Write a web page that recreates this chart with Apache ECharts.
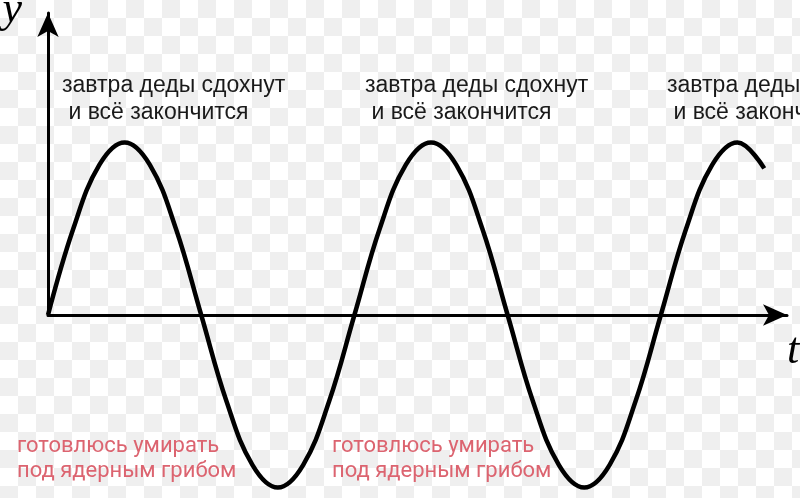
<!DOCTYPE html>
<html>
<head>
<meta charset="utf-8">
<script src="https://cdn.jsdelivr.net/npm/echarts@6/dist/echarts.min.js"></script>
<style>
  html, body { margin: 0; padding: 0; background: #fff; }
  #chart { width: 800px; height: 498px; }
</style>
</head>
<body>
<div id="chart"></div>
<script>
// t in quarter periods, y (amplitude = 1)
const tValues = [0, 0.33, 0.67, 1, 1.33, 1.67, 2, 2.33, 2.67, 3, 3.33, 3.67, 4,
  4.33, 4.67, 5, 5.33, 5.67, 6, 6.33, 6.67, 7, 7.33, 7.67, 8, 8.33, 8.67, 9, 9.35]
const yValues = [0, 0.5, 0.87, 1, 0.87, 0.5, 0, -0.5, -0.87, -1, -0.87, -0.5, 0,
  0.5, 0.87, 1, 0.87, 0.5, 0, -0.5, -0.87, -1, -0.87, -0.5, 0, 0.5, 0.87, 1, 0.85]

const topText = 'завтра деды сдохнут\n и всё закончится'
const bottomText = 'готовлюсь умирать\nпод ядерным грибом'
const topTextX = [62, 365, 667]
const bottomTextX = [17, 332]

// faint checkerboard like the source picture
function checker() {
  const c = document.createElement('canvas')
  c.width = 36
  c.height = 36
  const ctx = c.getContext('2d')
  ctx.fillStyle = '#ffffff'
  ctx.fillRect(0, 0, 36, 36)
  ctx.fillStyle = '#efefef'
  ctx.fillRect(18, 0, 18, 18)
  ctx.fillRect(0, 18, 18, 18)
  return c
}

window.onload = function () {
  const chart = echarts.init(document.querySelector('#chart'))

  const graphics = []
  topTextX.forEach(x => {
    graphics.push({
      type: 'text', left: x, top: 72, silent: true,
      style: { text: topText, font: '23px "Liberation Sans", Arial', fill: '#1a1a1a', lineHeight: 27 }
    })
  })
  bottomTextX.forEach(x => {
    graphics.push({
      type: 'text', left: x, top: 434, silent: true,
      style: { text: bottomText, font: '22px Roboto', fill: '#dc6470', lineHeight: 25 }
    })
  })

  const option = {
    backgroundColor: { image: checker(), repeat: 'repeat' },
    animation: false,
    grid: { left: 48, right: 13, top: 13, bottom: 183, outerBoundsMode: 'none', containLabel: false },
    xAxis: {
      type: 'value', min: 0, max: 9.647,
      name: 't', nameLocation: 'end', nameGap: 0,
      nameTextStyle: {
        fontFamily: '"Liberation Serif", serif', fontStyle: 'italic', fontSize: 44,
        color: '#000', align: 'left', verticalAlign: 'top', padding: [14, 0, 0, 0]
      },
      axisLine: { lineStyle: { color: '#000', width: 3 }, symbol: ['none', 'arrow'], symbolSize: [16, 24] },
      axisTick: { show: false },
      axisLabel: { show: false },
      splitLine: { show: false }
    },
    yAxis: {
      type: 'value', min: 0, max: 1.751,
      name: 'y', nameLocation: 'end', nameGap: 25,
      nameTextStyle: {
        fontFamily: '"Liberation Serif", serif', fontStyle: 'italic', fontSize: 44,
        color: '#000', align: 'right', verticalAlign: 'top', padding: [0, 26, 0, 0]
      },
      axisLine: { lineStyle: { color: '#000', width: 3 }, symbol: ['none', 'arrow'], symbolSize: [16, 24] },
      axisTick: { show: false },
      axisLabel: { show: false },
      splitLine: { show: false }
    },
    graphic: graphics,
    series: [{
      type: 'line',
      data: tValues.map((t, i) => [t, yValues[i]]),
      smooth: 0.4,
      clip: false,
      showSymbol: false,
      lineStyle: { color: '#000', width: 4.5 }
    }]
  }
  chart.setOption(option)
}
</script>
</body>
</html>
